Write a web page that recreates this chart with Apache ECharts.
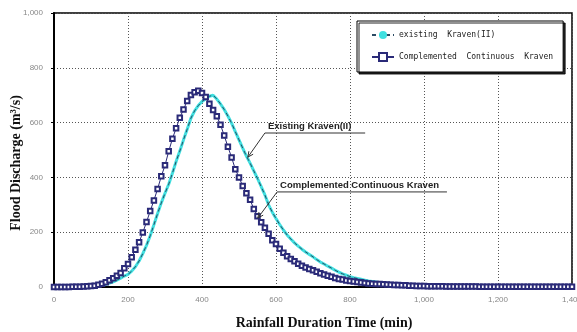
<!DOCTYPE html>
<html>
<head>
<meta charset="utf-8">
<script src="https://cdn.jsdelivr.net/npm/echarts@6/dist/echarts.min.js"></script>
<style>
  html, body { margin: 0; padding: 0; background: #fff; }
  #chart { width: 577px; height: 332px; }
</style>
</head>
<body>
<div id="chart"></div>
<script>
// time axis, 10 min step (0 ~ 1400)
const times = [];
for (let t = 0; t <= 1400; t += 10) times.push(t);

// existing Kraven(II)
const existingVals = [
  0, 0, 0, 0, 0, 0, 0, 0, 1, 1,
  2, 3, 5, 7, 10, 14, 19, 25, 32, 40,
  46, 58, 74, 95, 122, 152, 187, 227, 268, 307,
  342, 375, 415, 458, 496, 537, 576, 616, 643, 662,
  677, 687, 696, 700, 686, 668, 648, 624, 598, 567,
  537, 507, 478, 452, 424, 396, 366, 336, 300, 273,
  250, 228, 208, 190, 175, 161, 149, 138, 128, 119,
  110, 100, 91, 84, 76, 69, 61, 54, 48, 43,
  38, 34, 31, 28, 25, 22, 20, 18, 16, 14,
  12, 11, 10, 9, 8, 7, 6, 6, 5, 5,
  4, 4, 3, 3, 3, 3, 2, 2, 2, 2,
  2, 2, 2, 1, 1, 1, 1, 1, 1, 1,
  1, 1, 1, 1, 1, 1, 1, 1, 1, 1,
  1, 1, 1, 1, 1, 1, 1, 1, 1, 1,
  1
];

// Complemented Continuous Kraven
const complementedVals = [
  0, 0, 0, 0, 0, 1, 1, 1, 2, 3,
  4, 5, 8, 12, 17, 25, 32, 41, 51, 68,
  84, 109, 136, 163, 199, 237, 277, 316, 358, 404,
  444, 495, 541, 579, 618, 648, 679, 701, 711, 716,
  708, 693, 669, 646, 623, 592, 553, 512, 473, 430,
  400, 369, 342, 318, 285, 258, 236, 216, 194, 171,
  157, 140, 125, 112, 102, 94, 85, 78, 71, 66,
  61, 56, 50, 46, 41, 37, 33, 29, 27, 24,
  22, 20, 18, 16, 15, 13, 12, 11, 11, 10,
  9, 8, 7, 7, 6, 6, 5, 5, 4, 4,
  4, 3, 3, 3, 3, 3, 2, 2, 2, 2,
  2, 2, 2, 2, 2, 1, 1, 1, 1, 1,
  1, 1, 1, 1, 1, 1, 1, 1, 1, 1,
  1, 1, 1, 1, 1, 1, 1, 1, 1, 1,
  1
];

const seriesNames = ['existing  Kraven(II)', 'Complemented  Continuous  Kraven'];

// callout labels: [text, arrow tip, elbow, underline end] in data units
const callouts = [
  { text: 'Existing Kraven(II)', tip: [524, 474], elbow: [570, 562], end: [841, 562] },
  { text: 'Complemented Continuous Kraven', tip: [551, 252], elbow: [603, 347], end: [1062, 347] }
];

const pairs = (vals) => times.map((t, i) => [t, vals[i]]);
const fmt = (v) => String(v).replace(/\B(?=(\d{3})+(?!\d))/g, ',');

let chartDiv = document.getElementById('chart');
let myChart = echarts.init(chartDiv, null, { renderer: 'canvas' });

let option = {
  animation: false,
  grid: {
    left: 54, right: 5, top: 13, bottom: 45,
    containLabel: false,
    outerBoundsMode: 'none',
    show: true, borderColor: '#000', borderWidth: 1.5
  },
  legend: {
    orient: 'vertical',
    left: 357, top: 21,
    data: seriesNames,
    backgroundColor: '#fff',
    borderColor: '#000',
    borderWidth: 1,
    padding: [10, 10, 10, 14],
    itemGap: 13,
    itemWidth: 22,
    itemHeight: 10,
    shadowColor: 'rgba(0,0,0,0.85)',
    shadowOffsetX: 2,
    shadowOffsetY: 2,
    shadowBlur: 0,
    textStyle: { fontFamily: 'DejaVu Sans Mono', fontSize: 8, color: '#222' }
  },
  xAxis: {
    type: 'value',
    min: 0, max: 1400, interval: 200,
    name: 'Rainfall Duration Time (min)',
    nameLocation: 'middle',
    nameGap: 29,
    nameMoveOverlap: false,
    nameTextStyle: {
      fontFamily: 'Liberation Serif', fontWeight: 'bold', fontSize: 14, color: '#111',
      padding: [0, 0, 0, 22]
    },
    axisLine: { lineStyle: { color: '#000', width: 2 } },
    axisTick: { show: false },
    axisLabel: { color: '#888', fontSize: 8, margin: 9, formatter: fmt, fontFamily: 'Liberation Sans' },
    splitLine: { lineStyle: { color: '#555', type: [1, 2], width: 1 } }
  },
  yAxis: {
    type: 'value',
    min: 0, max: 1000, interval: 200,
    name: 'Flood Discharge (m³/s)',
    nameLocation: 'middle',
    nameGap: 31,
    nameMoveOverlap: false,
    nameTextStyle: {
      fontFamily: 'Liberation Serif', fontWeight: 'bold', fontSize: 14, color: '#111',
      padding: [0, 26, 0, 0]
    },
    axisLine: { show: true, lineStyle: { color: '#000', width: 2 } },
    axisTick: { show: true, length: 3, lineStyle: { color: '#000' } },
    axisLabel: { color: '#888', fontSize: 8, margin: 11, formatter: fmt, fontFamily: 'Liberation Sans' },
    splitLine: { lineStyle: { color: '#555', type: [1, 2], width: 1 } }
  },
  series: [
    {
      // cyan body of the existing curve
      name: 'existing-body',
      type: 'line',
      data: pairs(existingVals),
      symbol: 'none',
      lineStyle: { color: '#40e0e0', width: 3 },
      z: 2
    },
    {
      name: seriesNames[0],
      type: 'line',
      data: pairs(existingVals),
      symbol: 'circle',
      symbolSize: 5,
      showSymbol: false,
      itemStyle: { color: '#40e0e0' },
      lineStyle: { color: '#2b4b63', width: 1, type: [4, 3] },
      z: 3
    },
    {
      name: seriesNames[1],
      type: 'line',
      data: pairs(complementedVals),
      symbol: 'emptyRect',
      symbolSize: 4.5,
      showAllSymbol: true,
      itemStyle: { color: '#2a2a78', borderWidth: 1 },
      lineStyle: { color: '#2a2a78', width: 1 },
      z: 4
    }
  ]
};

if (option && typeof option === 'object') {
  myChart.setOption(option);
}

// 화살표 주석
const drawCallouts = () => {
  let els = [];
  callouts.forEach((c) => {
    let tip = myChart.convertToPixel({ gridIndex: 0 }, c.tip);
    let elbow = myChart.convertToPixel({ gridIndex: 0 }, c.elbow);
    let end = myChart.convertToPixel({ gridIndex: 0 }, c.end);
    els.push({
      type: 'polyline',
      shape: { points: [end, elbow, tip] },
      style: { stroke: '#333', lineWidth: 1, fill: null },
      z: 10
    });
    let ang = Math.atan2(tip[1] - elbow[1], tip[0] - elbow[0]);
    let L = 6, W = 0.45;
    els.push({
      type: 'polyline',
      shape: { points: [
        [tip[0] - L * Math.cos(ang - W), tip[1] - L * Math.sin(ang - W)],
        tip,
        [tip[0] - L * Math.cos(ang + W), tip[1] - L * Math.sin(ang + W)]
      ] },
      style: { stroke: '#333', lineWidth: 1, fill: null },
      z: 10
    });
    els.push({
      type: 'text',
      x: elbow[0] + 3,
      y: elbow[1] - 2,
      style: {
        text: c.text,
        fontFamily: 'Liberation Sans', fontWeight: 'bold', fontSize: 9.5,
        fill: '#222', textVerticalAlign: 'bottom'
      },
      z: 10
    });
  });
  myChart.setOption({ graphic: els });
};
drawCallouts();
</script>
</body>
</html>
